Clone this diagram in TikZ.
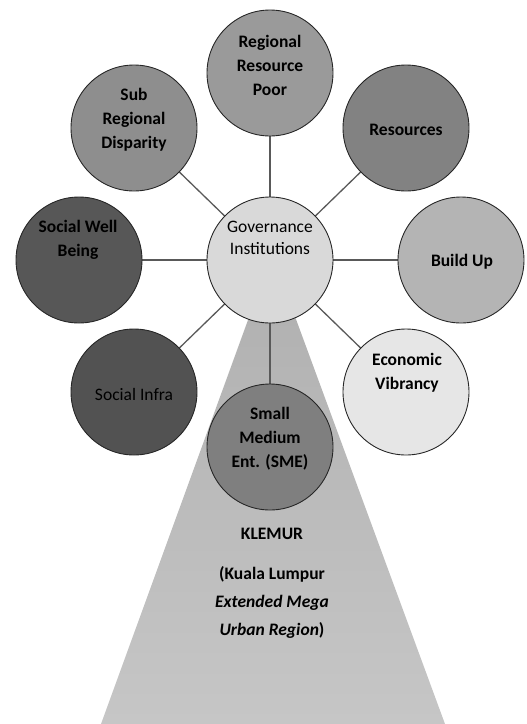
\documentclass[tikz,border=0pt]{standalone}
\usepackage{fontspec}
\setmainfont{Carlito}
\begin{document}
\begin{tikzpicture}[x=1pt,y=-1pt,
  bub/.style={circle,draw=black!85,line width=0.9pt,minimum size=126pt,inner sep=0pt},
  spoke/.style={draw=black!65,line width=1.3pt},
  lab/.style={align=center,font=\fontsize{17.5}{24}\selectfont\bfseries,text=black,inner sep=0pt},
  labr/.style={lab,font=\fontsize{17.5}{22}\selectfont}]
\useasboundingbox (0,0) rectangle (527,724);
\definecolor{cA}{HTML}{9A9A9A}
\definecolor{cB}{HTML}{8E8E8E}
\definecolor{cC}{HTML}{828282}
\definecolor{cD}{HTML}{575757}
\definecolor{cE}{HTML}{B4B4B4}
\definecolor{cF}{HTML}{525252}
\definecolor{cG}{HTML}{E6E6E6}
\definecolor{cH}{HTML}{7F7F7F}
\definecolor{cI}{HTML}{D9D9D9}
\definecolor{tT}{HTML}{AFAFAF}
\definecolor{tB}{HTML}{C6C6C6}
% base triangle
\coordinate (apex) at (272,254);
\coordinate (bl) at (101,724);
\coordinate (br) at (445,724);
\shade[top color=tT,bottom color=tB] (apex) -- (br) -- (bl) -- cycle;
% node centres
\coordinate (cg) at (270,260);
\coordinate (c1) at (270,73);
\coordinate (c2) at (406,128);
\coordinate (c3) at (461,260);
\coordinate (c4) at (406,392);
\coordinate (c5) at (270,447);
\coordinate (c6) at (134,392);
\coordinate (c7) at (79,260);
\coordinate (c8) at (134,128);
\foreach \c in {c1,c2,c3,c4,c5,c6,c7,c8} \draw[spoke] (cg) -- (\c);
\node[bub,fill=cI] (gov) at (cg) {};
\node[bub,fill=cA] (rrp) at (c1) {};
\node[bub,fill=cC] (res) at (c2) {};
\node[bub,fill=cE] (bu) at (c3) {};
\node[bub,fill=cG] (ev) at (c4) {};
\node[bub,fill=cH] (sme) at (c5) {};
\node[bub,fill=cF] (si) at (c6) {};
\node[bub,fill=cD] (swb) at (c7) {};
\node[bub,fill=cB] (srd) at (c8) {};
% labels
\node[labr] (tgov) at (270,238) {Governance\\Institutions};
\node[lab] (trrp) at (270,65) {Regional\\Resource\\Poor};
\node[lab] (tres) at (406,130) {Resources};
\node[lab] (tbu) at (462,262) {Build Up};
\node[lab] (tev) at (407,373) {Economic\\Vibrancy};
\node[lab] (tsme) at (270,439) {Small\\Medium\\Ent. (SME)};
\node[labr] (tsi) at (134,394) {Social Infra};
\node[lab] (tswb) at (78,240) {Social Well\\Being};
\node[lab] (tsrd) at (134,120) {Sub\\Regional\\Disparity};
\node[lab] (tkl) at (272,534) {KLEMUR};
\node[lab,font=\fontsize{17.5}{28}\selectfont\bfseries] (tkul) at (272,602)
  {(Kuala Lumpur\\\textit{Extended Mega}\\\textit{Urban Region})};
\end{tikzpicture}
\end{document}
